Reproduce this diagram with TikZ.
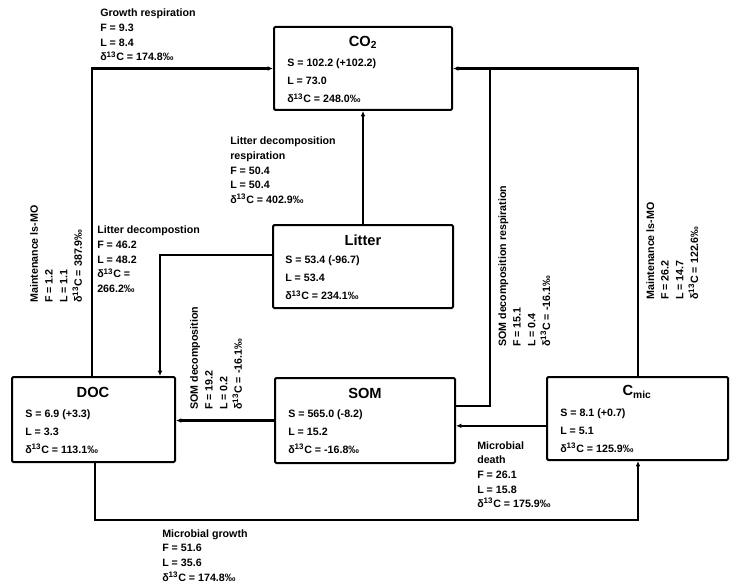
\documentclass[tikz,border=0pt]{standalone}
\usepackage{fontspec}
\setmainfont{Liberation Sans}
\usetikzlibrary{arrows.meta}
\newcommand{\dC}{δ\textsuperscript{13}C}
\begin{document}
\begin{tikzpicture}[x=0.75pt,y=-0.75pt,
  box/.style={draw, line width=1.5pt, rounded corners=1pt, inner sep=0pt},
  flow/.style={line width=1.7pt, -{Latex[length=4pt,width=3.5pt]}},
  link/.style={line width=1.7pt},
  lab/.style={align=left, inner sep=0pt, font=\bfseries\fontsize{8}{11}\selectfont},
  boxtext/.style={align=left, inner sep=0pt, anchor=north west, font=\bfseries\fontsize{8}{13.5}\selectfont},
  ttl/.style={inner sep=0pt, font=\bfseries\fontsize{11}{13}\selectfont},
  vlab/.style={lab, rotate=90, anchor=north west}]
\useasboundingbox (0,0) rectangle (738,588);

% pools
\node[box, minimum width=133.5pt, minimum height=62.25pt] (co2) at (363,68.5) {};
\node[box, minimum width=135pt, minimum height=62.25pt] (litter) at (363,266.5) {};
\node[box, minimum width=122.25pt, minimum height=63.75pt] (doc) at (93.5,419.5) {};
\node[box, minimum width=135pt, minimum height=63.75pt] (som) at (365,420.5) {};
\node[box, minimum width=135.75pt, minimum height=62.25pt] (cmic) at (637.5,418.5) {};

% pool contents
\node[ttl] (co2t) at (363,42) {CO\textsubscript{2}};
\node[boxtext] (co2d) at (287,59) {S = 102.2 (+102.2)\\L = 73.0\\\dC{} = 248.0‰};
\node[ttl] (littert) at (363,240) {Litter};
\node[boxtext] (litterd) at (285,256) {S = 53.4 ({-}96.7)\\L = 53.4\\\dC{} = 234.1‰};
\node[ttl] (doct) at (93,392) {DOC};
\node[boxtext] (docd) at (25,409) {S = 6.9 (+3.3)\\L = 3.3\\\dC{} = 113.1‰};
\node[ttl] (somt) at (365,393) {SOM};
\node[boxtext] (somd) at (288,409) {S = 565.0 ({-}8.2)\\L = 15.2\\\dC{} = {-}16.8‰};
\node[ttl] (cmict) at (637,392) {C\textsubscript{mic}};
\node[boxtext] (cmicd) at (560,408) {S = 8.1 (+0.7)\\L = 5.1\\\dC{} = 125.9‰};

% routing columns and rows
\coordinate (gx) at (92,0);
\coordinate (mx) at (638,0);
\coordinate (ldx) at (160,0);
\coordinate (rx) at (490,0);
\coordinate (bx) at (95,0);
\coordinate (by) at (0,520);

% fluxes
\draw[flow] (gx |- doc.north) |- (co2.west);
\draw[flow] (mx |- cmic.north) |- (co2.east);
\draw[flow] (litter.north) -- (co2.south);
\draw[flow] ([yshift=8.6pt]litter.west) -| (ldx |- doc.north);
\draw[flow] (som.west) -- (som.west -| doc.east);
\draw[link] ([yshift=11pt]som.east) -| (rx |- co2.east);
\draw[flow] ([yshift=-5.5pt]cmic.west) -- ([yshift=-5.5pt]cmic.west -| som.east);
\draw[flow] (bx |- doc.south) |- (mx |- by) -- (mx |- cmic.south);

% flux labels
\node[lab, anchor=north west] (growth) at (100,9) {Growth respiration\\F = 9.3\\L = 8.4\\\dC{} = 174.8‰};
\node[lab, anchor=north west] (ldresp) at (230,137) {Litter decomposition\\respiration\\F = 50.4\\L = 50.4\\\dC{} = 402.9‰};
\node[lab, anchor=north west] (ldec) at (97,226) {Litter decompostion\\F = 46.2\\L = 48.2\\\dC{} =\\266.2‰};
\node[lab, anchor=north west] (death) at (477,441) {Microbial\\death\\F = 26.1\\L = 15.8\\\dC{} = 175.9‰};
\node[lab, anchor=north west] (mgrowth) at (162,529) {Microbial growth\\F = 51.6\\L = 35.6\\\dC{} = 174.8‰};
\node[vlab] (mleft) at (30,303) {Maintenance ls-MO\\F = 1.2\\L = 1.1\\\dC{} = 387.9‰};
\node[vlab] (somdec) at (190,410) {SOM decomposition\\F = 19.2\\L = 0.2\\\dC{} = {-}16.1‰};
\node[vlab] (somresp) at (498,347) {SOM decomposition respiration\\F = 15.1\\L = 0.4\\\dC{} = {-}16.1‰};
\node[vlab] (mright) at (646,300) {Maintenance ls-MO\\F = 26.2\\L = 14.7\\\dC{} = 122.6‰};
\end{tikzpicture}
\end{document}
